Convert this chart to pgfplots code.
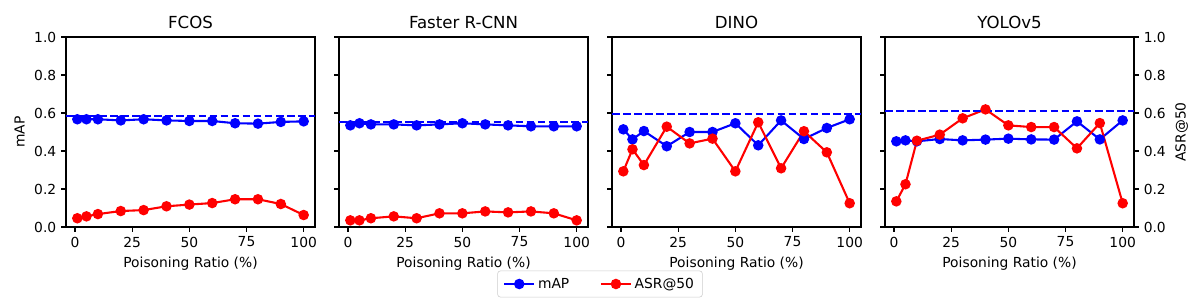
\documentclass[border=0pt]{standalone}
\usepackage{fontspec}
\setmainfont{DejaVu Sans}
\usepackage{pgfplots}
\pgfplotsset{compat=1.18}
\definecolor{mblue}{HTML}{0000FF}
\definecolor{mred}{HTML}{FF0000}
\pgfplotsset{
  panel/.style={
    width=179.28bp, height=136.8bp, scale only axis,
    xmin=-3.95, xmax=104.95, ymin=0, ymax=1,
    xtick={0,25,50,75,100},
    ytick={0,0.2,0.4,0.6,0.8,1.0},
    /pgf/number format/assume math mode=true,
    yticklabel style={/pgf/number format/.cd,fixed,fixed zerofill,precision=1},
    xticklabel style={/pgf/number format/.cd,fixed,precision=0},
    tick align=outside, xtick pos=bottom, ytick pos=left,
    major tick length=3.5bp,
    every tick/.style={line width=0.8bp, black},
    axis line style={line width=0.8bp},
    tick label style={font=\fontsize{10}{12}\selectfont},
    label style={font=\fontsize{10}{12}\selectfont},
    every axis title shift=0pt,
    title style={font=\fontsize{12}{14}\selectfont, at={(0.5,1)}, anchor=base, yshift=6bp},
    xlabel={Poisoning Ratio (\%)},
    anchor=south west,
  },
  mapline/.style={mblue, line width=1.5bp, mark=*, mark size=3bp, mark options={solid, fill=mblue, draw=mblue}},
  asrline/.style={mred, line width=1.5bp, mark=*, mark size=3bp, mark options={solid, fill=mred, draw=mred}},
  refline/.style={mblue, line width=1.5bp, dash pattern=on 5.55bp off 2.4bp, no marks, forget plot},
}
\begin{document}
\begin{tikzpicture}
\path[use as bounding box] (0,0) rectangle (864bp,216bp);
% FCOS
\begin{axis}[panel, at={(47.52bp,52.56bp)}, title={FCOS}, ylabel={mAP},
  legend columns=2,
  legend style={at={(2.1446,-0.3)}, anchor=center, draw=black!20, rounded corners=2bp,
    font=\fontsize{10}{12}\selectfont, inner xsep=4bp, inner ysep=3bp,
    /tikz/every even column/.append style={column sep=20bp}},
  legend image code/.code={\draw[mark repeat=2,mark phase=2,#1] plot coordinates {(0bp,0bp) (10.8bp,0bp) (21.6bp,0bp)};}]
\addplot[mapline] coordinates {(1,0.567) (5,0.567) (10,0.567) (20,0.561) (30,0.567) (40,0.561) (50,0.558) (60,0.558) (70,0.546) (80,0.544) (90,0.553) (100,0.556)};
\addlegendentry{mAP}
\addplot[asrline] coordinates {(1,0.046) (5,0.056) (10,0.068) (20,0.084) (30,0.089) (40,0.109) (50,0.118) (60,0.126) (70,0.146) (80,0.146) (90,0.121) (100,0.063)};
\addlegendentry{ASR@50}
\addplot[refline] coordinates {(-3.95,0.584) (104.95,0.584)};
\end{axis}
% Faster R-CNN
\begin{axis}[panel, at={(244.08bp,52.56bp)}, title={Faster R-CNN}, yticklabels={}]
\addplot[mapline] coordinates {(1,0.535) (5,0.546) (10,0.540) (20,0.540) (30,0.535) (40,0.540) (50,0.546) (60,0.540) (70,0.535) (80,0.530) (90,0.530) (100,0.530)};
\addplot[asrline] coordinates {(1,0.035) (5,0.035) (10,0.046) (20,0.056) (30,0.046) (40,0.072) (50,0.072) (60,0.082) (70,0.077) (80,0.082) (90,0.072) (100,0.035)};
\addplot[refline] coordinates {(-3.95,0.554) (104.95,0.554)};
\end{axis}
% DINO
\begin{axis}[panel, at={(440.64bp,52.56bp)}, title={DINO}, yticklabels={}]
\addplot[mapline] coordinates {(1,0.514) (5,0.461) (10,0.505) (20,0.425) (30,0.500) (40,0.500) (50,0.546) (60,0.430) (70,0.561) (80,0.463) (90,0.521) (100,0.567)};
\addplot[asrline] coordinates {(1,0.293) (5,0.409) (10,0.326) (20,0.528) (30,0.440) (40,0.465) (50,0.293) (60,0.551) (70,0.309) (80,0.504) (90,0.393) (100,0.125)};
\addplot[refline] coordinates {(-3.95,0.596) (104.95,0.596)};
\end{axis}
% YOLOv5
\begin{axis}[panel, at={(637.2bp,52.56bp)}, title={YOLOv5}, ytick pos=both, yticklabel pos=right,
  ylabel={ASR@50}, ylabel near ticks]
\addplot[mapline] coordinates {(1,0.451) (5,0.456) (10,0.451) (20,0.463) (30,0.456) (40,0.460) (50,0.465) (60,0.461) (70,0.460) (80,0.556) (90,0.461) (100,0.561)};
\addplot[asrline] coordinates {(1,0.135) (5,0.225) (10,0.454) (20,0.486) (30,0.572) (40,0.619) (50,0.535) (60,0.526) (70,0.526) (80,0.414) (90,0.547) (100,0.125)};
\addplot[refline] coordinates {(-3.95,0.612) (104.95,0.612)};
\end{axis}
\end{tikzpicture}
\end{document}
